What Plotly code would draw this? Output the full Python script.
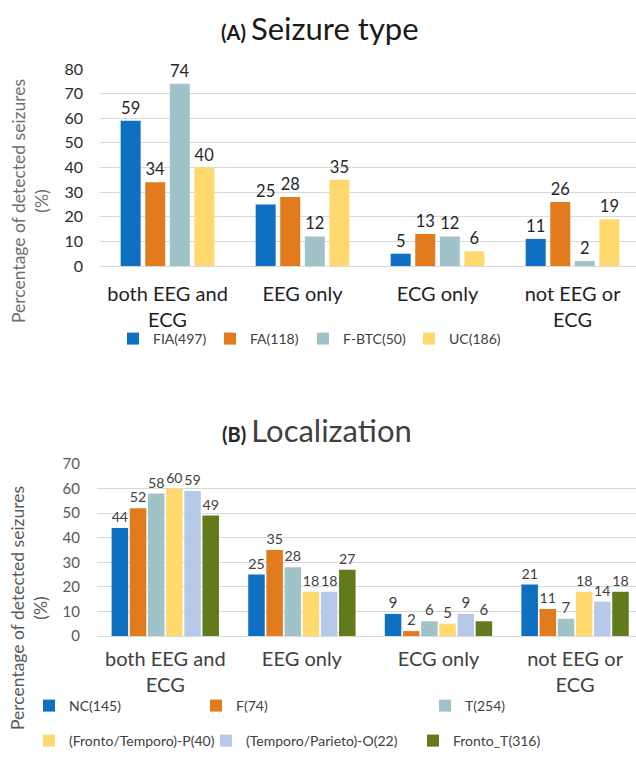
import plotly.graph_objects as go

# ---------------- data ----------------
categories = ["both EEG and<br>ECG", "EEG only", "ECG only", "not EEG or<br>ECG"]

a_series = ["FIA(497)", "FA(118)", "F-BTC(50)", "UC(186)"]
a_values = [
    [59, 25, 5, 11],
    [34, 28, 13, 26],
    [74, 12, 12, 2],
    [40, 35, 6, 19],
]
a_ticks = [0, 10, 20, 30, 40, 50, 60, 70, 80]

b_series = ["NC(145)", "F(74)", "T(254)", "(Fronto/Temporo)-P(40)",
            "(Temporo/Parieto)-O(22)", "Fronto_T(316)"]
b_values = [
    [44, 25, 9, 21],
    [52, 35, 2, 11],
    [58, 28, 6, 7],
    [60, 18, 5, 18],
    [59, 18, 9, 14],
    [49, 27, 6, 18],
]
b_ticks = [0, 10, 20, 30, 40, 50, 60, 70]

# ---------------- styles ----------------
W, H = 636, 767
FONT = "Lato"
a_colors = ["#0F6FC0", "#E27A1E", "#A0C3C9", "#FFD96E"]
b_colors = ["#0F6FC0", "#E27A1E", "#A0C3C9", "#FFD96E", "#B7C9E8", "#627A1C"]


def px_x(p):
    return p / W


def px_y(p):
    return 1 - p / H


fig = go.Figure()

# legend positions (px: left of legend box, centre y)
a_leg_pos = [(113, 339), (210, 339), (303, 339), (409, 339)]
b_leg_pos = [(29, 706), (196, 706), (425, 706), (29, 741), (206, 741), (413, 741)]

x_idx = list(range(len(categories)))

# panel A bars
a_slot, a_w = 0.182, 0.148
n = len(a_series)
for i, (name, vals, col) in enumerate(zip(a_series, a_values, a_colors)):
    lg = "legend" if i == 0 else f"legend{i+1}"
    fig.add_trace(go.Bar(
        x=x_idx, y=vals, name=name, marker_color=col,
        marker_line_width=0, showlegend=True,
        width=a_w, offset=(i - (n - 1) / 2) * a_slot - a_w / 2,
        text=vals, textposition="outside", cliponaxis=False,
        textfont=dict(family=FONT, size=16.5, color="#262626"),
        xaxis="x", yaxis="y", legend=lg,
    ))

# panel B bars
b_slot, b_w = 0.133, 0.121
n = len(b_series)
for i, (name, vals, col) in enumerate(zip(b_series, b_values, b_colors)):
    lg = f"legend{len(a_series) + i + 1}"
    fig.add_trace(go.Bar(
        x=x_idx, y=vals, name=name, marker_color=col,
        marker_line_width=0, showlegend=True,
        width=b_w, offset=(i - (n - 1) / 2) * b_slot - b_w / 2,
        text=vals, textposition="outside", cliponaxis=False,
        textfont=dict(family=FONT, size=15, color="#404040"),
        xaxis="x2", yaxis="y2", legend=lg,
    ))

layout = dict(
    width=W, height=H,
    margin=dict(l=0, r=0, t=0, b=0, autoexpand=False),
    paper_bgcolor="white", plot_bgcolor="white",
    font=dict(family=FONT, color="#404040"),
    barmode="group",
    showlegend=True,
    xaxis=dict(domain=[px_x(100), 1], range=[-0.5, 3.47],
               tickvals=x_idx, ticktext=categories, showgrid=False,
               showline=True, linecolor="#D9D9D9", linewidth=1.3,
               ticks="", ticklabelstandoff=10, automargin=False,
               tickfont=dict(family=FONT, size=20, color="#1f1f1f"),
               anchor="y", fixedrange=True),
    yaxis=dict(domain=[px_y(266), px_y(69)], range=[0, 80],
               tickvals=a_ticks, showgrid=True, gridcolor="#D9D9D9",
               gridwidth=1.3, zeroline=True, zerolinecolor="#D9D9D9",
               zerolinewidth=1.3, ticks="", ticklabelstandoff=16,
               automargin=False,
               tickfont=dict(family=FONT, size=16, color="#2b2b2b"),
               anchor="x"),
    xaxis2=dict(domain=[px_x(97), 1], range=[-0.5, 3.446],
                tickvals=x_idx, ticktext=categories, showgrid=False,
                showline=True, linecolor="#D9D9D9", linewidth=1.3,
                ticks="", ticklabelstandoff=5, automargin=False,
                tickfont=dict(family=FONT, size=20, color="#404040"),
                anchor="y2"),
    yaxis2=dict(domain=[px_y(636), px_y(464)], range=[0, 70],
                tickvals=b_ticks, showgrid=True, gridcolor="#D9D9D9",
                gridwidth=1.3, zeroline=True, zerolinecolor="#D9D9D9",
                zerolinewidth=1.3, ticks="", ticklabelstandoff=16,
                automargin=False,
                tickfont=dict(family=FONT, size=15, color="#595959"),
                anchor="x2"),
    annotations=[
        dict(text="<b>(A)</b> <span style='font-size:31px'>Seizure type</span>",
             x=px_x(320), y=px_y(28), xref="paper", yref="paper",
             xanchor="center", yanchor="middle", showarrow=False,
             font=dict(family=FONT, size=20, color="#1a1a1a")),
        dict(text="<b>(B)</b> <span style='font-size:31px;color:#404040'>Localization</span>",
             x=px_x(317), y=px_y(430), xref="paper", yref="paper",
             xanchor="center", yanchor="middle", showarrow=False,
             font=dict(family=FONT, size=20, color="#262626")),
        dict(text="Percentage of detected seizures<br>(%)",
             x=px_x(30), y=px_y(201), xref="paper", yref="paper",
             xanchor="center", yanchor="middle", showarrow=False,
             textangle=-90,
             font=dict(family=FONT, size=17.5, color="#6e6e6e")),
        dict(text="Percentage of detected seizures<br>(%)",
             x=px_x(29), y=px_y(608), xref="paper", yref="paper",
             xanchor="center", yanchor="middle", showarrow=False,
             textangle=-90,
             font=dict(family=FONT, size=17.5, color="#595959")),
    ],
)

for k, (lx, ly) in enumerate(a_leg_pos + b_leg_pos):
    key = "legend" if k == 0 else f"legend{k+1}"
    layout[key] = dict(x=px_x(lx), y=px_y(ly), xanchor="left", yanchor="middle",
                       orientation="h", bgcolor="rgba(0,0,0,0)",
                       font=dict(family=FONT, size=14, color="#404040"),
                       itemclick=False, itemdoubleclick=False)

fig.update_layout(**layout)
fig.write_html("out.html", config={"displayModeBar": False},
               post_script="document.body.style.margin='0';")
